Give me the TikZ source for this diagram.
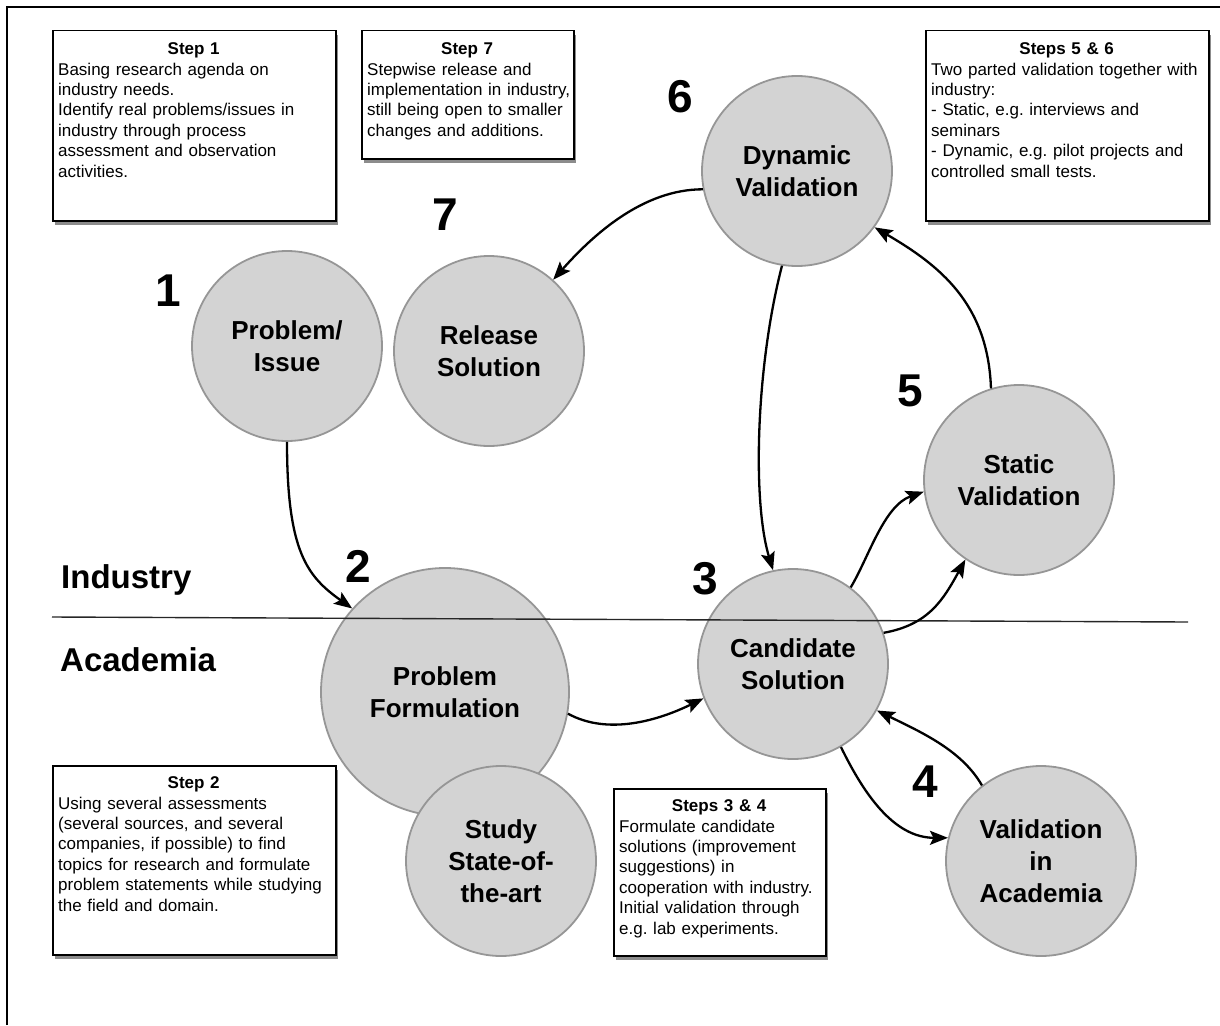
\documentclass[tikz,border=0pt]{standalone}
\usepackage{fontspec}
\setmainfont{Liberation Sans}
\usetikzlibrary{arrows.meta,shadows}
\definecolor{circfill}{RGB}{211,211,211}
\definecolor{circline}{RGB}{150,150,150}
\setlength{\parindent}{0pt}
\frenchspacing
\hyphenpenalty=10000
\exhyphenpenalty=10000
\begin{document}
\begin{tikzpicture}[x=1pt,y=-1pt,
  circ/.style={circle, draw=circline, line width=1.8pt, fill=circfill, minimum size=190pt, inner sep=0pt, align=center, font=\fontsize{26}{32}\selectfont\bfseries},
  bigcirc/.style={circ, minimum size=248pt},
  numlab/.style={font=\fontsize{46}{50}\selectfont\bfseries, inner sep=0pt},
  zonelab/.style={font=\fontsize{33}{38}\selectfont\bfseries, inner sep=0pt, anchor=west},
  tbox/.style={draw=black, line width=1.5pt, fill=white, inner sep=0pt, anchor=north west,
    drop shadow={shadow xshift=2pt, shadow yshift=-4pt, fill=black, opacity=0.45}},
  btext/.style={anchor=north west, inner sep=0pt, align=left, font=\fontsize{17}{20.4}\selectfont},
  arr/.style={line width=2.3pt, -{Stealth[length=18pt, width=14pt, inset=3.5pt]}}
]
\useasboundingbox (0,0) rectangle (1220,1025);
% outer frame
\draw[line width=2pt] (7,1025) -- (7,7) -- (1220,7);

% text boxes
\node[tbox, minimum width=283pt, minimum height=190pt] (b1) at (52,30) {};
\node[btext, text width=271pt] (t1) at (58,42.7) {{\centering\bfseries Step 1\par}Basing research agenda on\\industry needs.\\Identify real problems/issues in\\industry through process\\assessment and observation\\activities.};

\node[tbox, minimum width=212pt, minimum height=128pt] (b7) at (361,30) {};
\node[btext, text width=212pt] (t7) at (367,42.7) {{\centering\bfseries Step 7\hspace*{12pt}\par}Stepwise release and\\implementation in industry,\\still being open to smaller\\changes and additions.};

\node[tbox, minimum width=283pt, minimum height=190pt] (b56) at (925,30) {};
\node[btext, text width=271pt] (t56) at (931,42.7) {{\centering\bfseries Steps 5 \& 6\par}Two parted validation together with\\industry:\\- Static, e.g. interviews and\\seminars\\- Dynamic, e.g. pilot projects and\\controlled small tests.};

\node[tbox, minimum width=283pt, minimum height=189pt] (b2) at (52,765) {};
\node[btext, text width=271pt] (t2) at (58,776.7) {{\centering\bfseries Step 2\par}Using several assessments\\(several sources, and several\\companies, if possible) to find\\topics for research and formulate\\problem statements while studying\\the field and domain.};

\node[tbox, minimum width=212pt, minimum height=167pt] (b34) at (613,788) {};
\node[btext, text width=200pt] (t34) at (619,799.7) {{\centering\bfseries Steps 3 \& 4\par}Formulate candidate\\solutions (improvement\\suggestions) in\\cooperation with industry.\\Initial validation through\\e.g. lab experiments.};

% circles
\node[circ] (PI) at (287,346) {Problem/\\Issue};
\node[circ] (RS) at (489,351) {Release\\Solution};
\node[circ] (DV) at (797,171) {Dynamic\\Validation};
\node[circ] (SV) at (1019,480) {Static\\Validation};
\node[circ] (CS) at (793,664) {Candidate\\Solution};
\node[circ] (VA) at (1041,861) {Validation\\in\\Academia};
\node[bigcirc] (PF) at (445,692) {Problem\\Formulation};
\node[circ] (SS) at (501,861) {Study\\State-of-\\the-art};

% divider
\coordinate (divL) at (52,617);
\coordinate (divR) at (1188,622);
\draw[line width=1.4pt, black!85] (divL) -- (divR);
\node[zonelab] (ind) at (61,580) {Industry};
\node[zonelab] (aca) at (60,660) {Academia};

% step numbers
\node[numlab] (n1) at (168,291) {1};
\node[numlab] (n2) at (358,566) {2};
\node[numlab] (n3) at (705,579) {3};
\node[numlab] (n4) at (925,782) {4};
\node[numlab] (n5) at (910,391) {5};
\node[numlab] (n6) at (680,97) {6};
\node[numlab] (n7) at (445,215) {7};

% arrows
\draw[arr] (PI.270) .. controls +(0,110) and +(-45,-32) .. (PF.138);
\draw[arr] (DV.191) .. controls +(-60,0) and +(40,-45) .. (RS.48);
\draw[arr] (DV.261) .. controls +(-26,100) and +(-21,-69) .. (CS.102);
\draw[arr] (SV.107) .. controls +(-3,-85) and +(65,38) .. (DV.-36);
\draw[arr] (CS.53) .. controls +(18,-30) and +(-40,14) .. (SV.187);
\draw[arr] (CS.19) .. controls +(45,-8) and +(-22,40) .. (SV.236);
\draw[arr] (PF.-10) .. controls +(40,22) and +(-45,22) .. (CS.201);
\draw[arr] (CS.-60) .. controls +(22,45) and +(-55,0) .. (VA.166);
\draw[arr] (VA.128) .. controls +(-20,-35) and +(45,22) .. (CS.-29);
\end{tikzpicture}
\end{document}
